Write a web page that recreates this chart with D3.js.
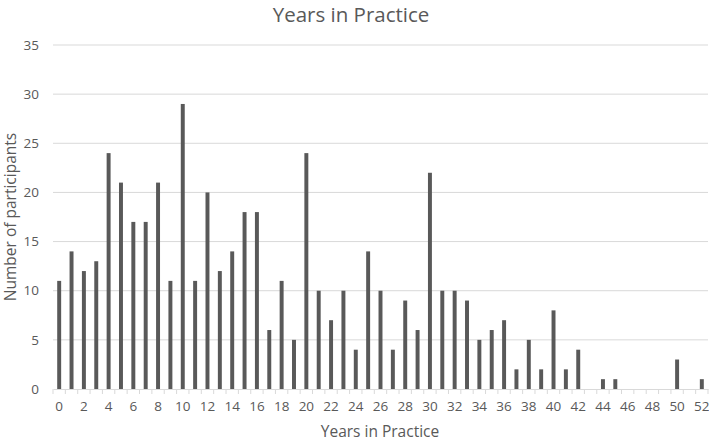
<!DOCTYPE html>
<html>
<head>
<meta charset="utf-8">
<script src="https://cdn.jsdelivr.net/npm/d3@7"></script>
<style>
  body { margin: 0; background: #fff; }
  text { font-family: "Open Sans", "Noto Sans", sans-serif; fill: #595959; }
</style>
</head>
<body>
<svg id="chart" width="709" height="442"></svg>
<script>
// data
var years = d3.range(0, 53);
var participants = [11, 14, 12, 13, 24, 21, 17, 17, 21, 11,
                    29, 11, 20, 12, 14, 18, 18, 6, 11, 5,
                    24, 10, 7, 10, 4, 14, 10, 4, 9, 6,
                    22, 10, 10, 9, 5, 6, 7, 2, 5, 2,
                    8, 2, 4, 0, 1, 1, 0, 0, 0, 0,
                    3, 0, 1];
var yTicks = [0, 5, 10, 15, 20, 25, 30, 35];

var svg = d3.select("#chart"),
    margin = {top: 45, right: 1, bottom: 53, left: 53},
    width = +svg.attr("width") - margin.left - margin.right,
    height = +svg.attr("height") - margin.top - margin.bottom,
    g = svg.append("g").attr("transform", "translate(" + margin.left + "," + margin.top + ")");

var x = d3.scaleBand()
    .domain(years)
    .range([0, width])
    .paddingInner(0.68)
    .paddingOuter(0.34);

var y = d3.scaleLinear()
    .domain([0, 35])
    .range([height, 0]);

// gridlines
g.selectAll(".grid")
    .data(yTicks.slice(1))
    .enter().append("line")
    .attr("class", "grid")
    .attr("x1", 0)
    .attr("x2", width)
    .attr("y1", function (d) { return y(d); })
    .attr("y2", function (d) { return y(d); })
    .attr("stroke", "#d9d9d9")
    .attr("stroke-width", 1);

// y labels
g.selectAll(".ylab")
    .data(yTicks)
    .enter().append("text")
    .attr("class", "ylab")
    .attr("x", -14)
    .attr("y", function (d) { return y(d); })
    .attr("dy", "0.35em")
    .attr("text-anchor", "end")
    .style("font-size", "13.5px")
    .text(function (d) { return d; });

// bars
g.selectAll(".bar")
    .data(participants)
    .enter().append("rect")
    .attr("class", "bar")
    .attr("x", function (d, i) { return x(years[i]); })
    .attr("width", x.bandwidth())
    .attr("y", function (d) { return y(d); })
    .attr("height", function (d) { return height - y(d); })
    .attr("fill", "#595959");

// x axis
var xAxis = g.append("g")
    .attr("transform", "translate(0," + height + ")")
    .call(d3.axisBottom(x)
        .tickSize(0)
        .tickFormat(function (d) { return d % 2 === 0 ? d : ""; }));
xAxis.select(".domain").attr("stroke", "#d9d9d9");
xAxis.selectAll("text")
    .attr("dy", "1.4em")
    .style("font-size", "13.5px")
    .style("font-family", "\"Open Sans\", sans-serif")
    .style("fill", "#595959");

// tick marks between categories
var step = x.step();
g.selectAll(".xtick")
    .data(d3.range(0, years.length + 1))
    .enter().append("line")
    .attr("class", "xtick")
    .attr("x1", function (d) { return d * step; })
    .attr("x2", function (d) { return d * step; })
    .attr("y1", height)
    .attr("y2", height + 5)
    .attr("stroke", "#d9d9d9");

// titles
svg.append("text")
    .attr("x", 351)
    .attr("y", 22)
    .attr("text-anchor", "middle")
    .style("font-size", "20.5px")
    .text("Years in Practice");

svg.append("text")
    .attr("x", 380)
    .attr("y", 437)
    .attr("text-anchor", "middle")
    .style("font-size", "15.5px")
    .text("Years in Practice");

svg.append("text")
    .attr("transform", "translate(16," + (margin.top + height / 2) + ") rotate(-90)")
    .attr("text-anchor", "middle")
    .style("font-size", "15.5px")
    .text("Number of participants");
</script>
</body>
</html>
